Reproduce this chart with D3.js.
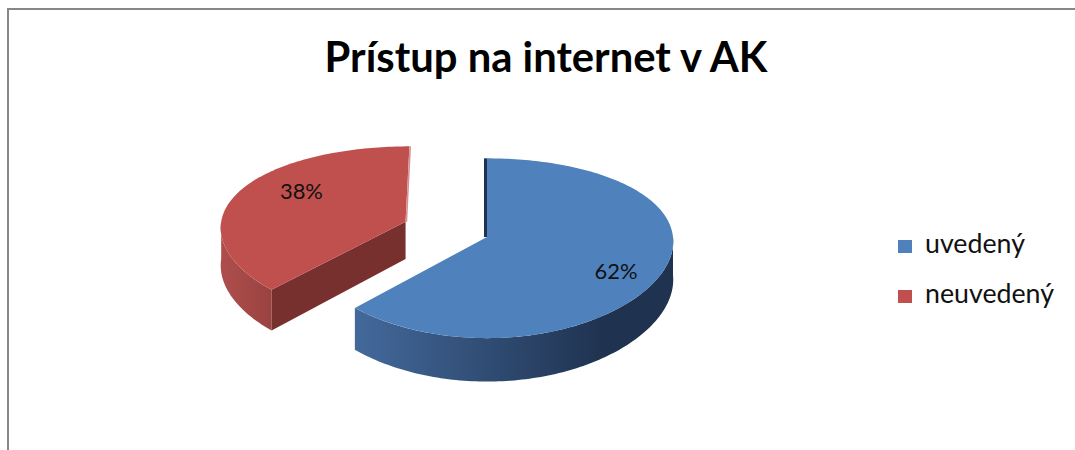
<!DOCTYPE html>
<html>
<head>
<meta charset="utf-8">
<script src="https://cdn.jsdelivr.net/npm/d3@7/dist/d3.min.js"></script>
<style>
  html, body { margin: 0; padding: 0; background: #ffffff; }
  svg { display: block; }
</style>
</head>
<body>
<script>
// ---- data ----
const title = "Prístup na internet v AK";
const categories = ["uvedený", "neuvedený"];
const values = [62, 38];
const labels = ["62%", "38%"];
const explode = [0, 0.475];

// ---- style ----
const topColors = ["#4F81BD", "#C0504D"];
const sideGrad = [["#43699B", "#1F324F"], ["#AE4E4C", "#9A4341"]];
const radialColors = ["#1F3350", "#78302F"];
const W = 1075, H = 450;
const font = "Lato, 'Open Sans', sans-serif";

// ---- projection (pseudo-3D pie) ----
const cx = 487, cy = 237, A = 186, B = 88.5, p = 0.125, px = 0.05, T = 38;
function proj(u, v, h) {
  const wy = 1 - p * v, wx = 1 - px * v;
  return [cx + A * u / wx, cy + (B * v + h * T) / wy];
}

const svg = d3.select("body").append("svg").attr("width", W).attr("height", H);
const defs = svg.append("defs");

// chart border (only top/left visible)
svg.append("rect").attr("x", 8).attr("y", 9).attr("width", W + 20).attr("height", H + 20)
  .attr("fill", "none").attr("stroke", "#878787").attr("stroke-width", 2);

const arcs = d3.pie().sort(null).value(d => d).startAngle(0).endAngle(2 * Math.PI)(values);
const line = d3.line();

function slicePt(a, r, o, h) {
  return proj(o[0] + r * Math.sin(a), o[1] - r * Math.cos(a), h);
}
function rim(a0, a1, o, h) {
  const n = Math.max(2, Math.ceil((a1 - a0) / 0.02));
  return d3.range(n + 1).map(i => slicePt(a0 + (a1 - a0) * i / n, 1, o, h));
}

const order = [1, 0]; // back slice first
order.forEach(i => {
  const d = arcs[i];
  const mid = (d.startAngle + d.endAngle) / 2;
  const o = [explode[i] * Math.sin(mid), -explode[i] * Math.cos(mid)];
  const g = svg.append("g");

  // outer rim side face (visible near half)
  const v0 = Math.max(d.startAngle, Math.PI / 2), v1 = Math.min(d.endAngle, 3 * Math.PI / 2);
  if (v1 > v0) {
    const topPts = rim(v0, v1, o, 0);
    const botPts = rim(v0, v1, o, 1).reverse();
    const xs = topPts.map(q => q[0]);
    const gid = "side" + i;
    const gx1 = i === 0 ? d3.min(xs) : d3.min(xs);
    const gx2 = i === 0 ? cx + 0.65 * A : d3.max(xs);
    const lg = defs.append("linearGradient").attr("id", gid)
      .attr("gradientUnits", "userSpaceOnUse")
      .attr("x1", gx1).attr("y1", 0).attr("x2", gx2).attr("y2", 0);
    lg.append("stop").attr("offset", 0).attr("stop-color", sideGrad[i][0]);
    lg.append("stop").attr("offset", 1).attr("stop-color", sideGrad[i][1]);
    g.append("path").attr("d", line(topPts.concat(botPts)) + "Z").attr("fill", "url(#" + gid + ")");
  }

  // radial face at start edge (visible when facing viewer)
  if (-Math.sin(d.startAngle) > 0.01) {
    const pts = [slicePt(d.startAngle, 0, o, 0), slicePt(d.startAngle, 1, o, 0),
                 slicePt(d.startAngle, 1, o, 1), slicePt(d.startAngle, 0, o, 1)];
    g.append("path").attr("d", line(pts) + "Z").attr("fill", radialColors[i]);
  }

  // top face
  const topFace = [slicePt(0, 0, o, 0)].concat(rim(d.startAngle, d.endAngle, o, 0));
  g.append("path").attr("d", line(topFace) + "Z").attr("fill", topColors[i]);

  // thin edge-on strips at 12 o'clock edges
  if (i === 0) {
    const a = slicePt(d.startAngle, 0, o, 0), b = slicePt(d.startAngle, 1, o, 0);
    g.append("line").attr("x1", a[0] - 1.5).attr("y1", a[1]).attr("x2", b[0] - 1.5).attr("y2", b[1])
      .attr("stroke", radialColors[0]).attr("stroke-width", 3);
  } else {
    const a = slicePt(d.endAngle, 0, o, 0), b = slicePt(d.endAngle, 1, o, 0);
    g.append("line").attr("x1", a[0] + 0.8).attr("y1", a[1]).attr("x2", b[0] + 0.8).attr("y2", b[1])
      .attr("stroke", "#D39391").attr("stroke-width", 1.6);
  }
});

// helper: fit text width
function fitWidth(sel, target) {
  sel.attr("font-size", 100);
  const len = sel.node().getComputedTextLength();
  sel.attr("font-size", 100 * target / len);
  return 100 * target / len;
}

// data labels
arcs.forEach((d, i) => {
  const mid = (d.startAngle + d.endAngle) / 2;
  const o = [explode[i] * Math.sin(mid), -explode[i] * Math.cos(mid)];
  const pt = slicePt(mid, 0.68, o, 0);
  const vm = -Math.cos(mid);
  const t = svg.append("text").attr("x", pt[0] + 10).attr("y", pt[1] + 30 * vm)
    .attr("text-anchor", "middle").attr("dominant-baseline", "central")
    .attr("font-family", font).attr("fill", "#111").text(labels[i]);
  fitWidth(t, 43);
});

// title
const tt = svg.append("text").attr("x", 546).attr("y", 72).attr("text-anchor", "middle")
  .attr("font-family", font).attr("font-weight", 700).attr("fill", "#000").text(title);
fitWidth(tt, 443);

// legend
const leg = svg.append("g");
let fs = null;
categories.forEach((c, i) => {
  const y = 240 + i * 50;
  leg.append("rect").attr("x", 898).attr("y", y).attr("width", 14).attr("height", 13)
    .attr("fill", topColors[i]);
  const t = leg.append("text").attr("x", 925).attr("y", y + 13)
    .attr("font-family", font).attr("fill", "#111").text(c);
  if (fs === null) fs = fitWidth(t, 100); else t.attr("font-size", fs);
});
</script>
</body>
</html>
